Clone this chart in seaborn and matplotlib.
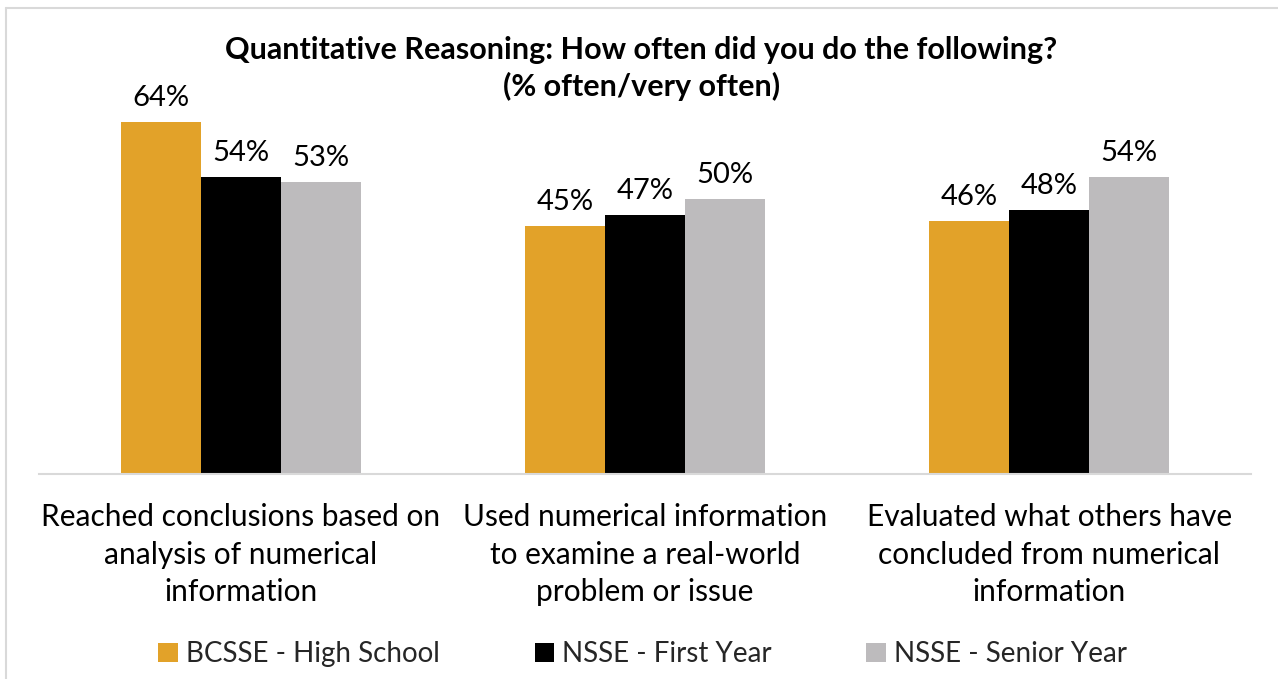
import matplotlib
matplotlib.use("Agg")
import matplotlib.pyplot as plt
from matplotlib.lines import Line2D
import seaborn as sns
import pandas as pd

# Survey items (x-axis categories) and the three respondent groups
categories = [
    "Reached conclusions based on\nanalysis of numerical\ninformation",
    "Used numerical information\nto examine a real-world\nproblem or issue",
    "Evaluated what others have\nconcluded from numerical\ninformation",
]
groups = ["BCSSE - High School", "NSSE - First Year", "NSSE - Senior Year"]
bcsse_high_school = [64, 45, 46]
nsse_first_year = [54, 47, 48]
nsse_senior_year = [53, 50, 54]

palette = ["#E2A229", "#000000", "#BDBBBD"]

rows = []
for grp, vals in zip(groups, [bcsse_high_school, nsse_first_year, nsse_senior_year]):
    for cat, v in zip(categories, vals):
        rows.append({"item": cat, "group": grp, "pct": v})
df = pd.DataFrame(rows)

sns.set_theme(style="white")
plt.rcParams["font.family"] = ["Lato", "DejaVu Sans"]

fig = plt.figure(figsize=(12.78, 6.79), dpi=100)
ax = fig.add_axes([0.0305, 0.302, 0.9485, 0.567])

sns.barplot(data=df, x="item", y="pct", hue="group", order=categories,
            hue_order=groups, palette=palette, width=0.594, gap=0,
            saturation=1, edgecolor="none", linewidth=0, ax=ax, legend=True)

for cont in ax.containers:
    ax.bar_label(cont, labels=[f"{v:.0f}%" for v in cont.datavalues],
                 padding=8, fontsize=21, color="#000000")

ax.set_ylim(0, 70)
ax.set_xlim(-0.5, 2.5)
ax.set_xlabel("")
ax.set_ylabel("")
ax.set_yticks([])
ax.set_xticks(range(len(categories)))
ax.set_xticklabels(categories, linespacing=1.42, fontsize=21.5, color="#000000")
ax.tick_params(axis="x", length=0, pad=21)
for side in ["top", "left", "right"]:
    ax.spines[side].set_visible(False)
ax.spines["bottom"].set_color("#D9D9D9")
ax.spines["bottom"].set_linewidth(1.5)

handles, labels = ax.get_legend_handles_labels()
ax.get_legend().remove()
fig.legend(handles, labels, loc="center", bbox_to_anchor=(0.503, 1 - 654 / 679),
           ncol=3, frameon=False, fontsize=20, handlelength=0.7,
           handleheight=0.7, handletextpad=0.3, columnspacing=3.4,
           borderaxespad=0)

fig.text(0.502, 1 - 50 / 679, "Quantitative Reasoning: How often did you do the following?",
         ha="center", va="center", fontsize=22, fontweight="bold", color="#000000")
fig.text(0.502, 1 - 86 / 679, "(% often/very often)",
         ha="center", va="center", fontsize=22, fontweight="bold", color="#000000")

# Chart-area border along the top and left edges
fig.add_artist(Line2D([6 / 1278, 1], [1 - 8 / 679, 1 - 8 / 679],
                      transform=fig.transFigure, color="#D9D9D9", linewidth=1.5))
fig.add_artist(Line2D([6 / 1278, 6 / 1278], [0, 1 - 8 / 679],
                      transform=fig.transFigure, color="#D9D9D9", linewidth=1.5))

fig.savefig("out.png", dpi=100, facecolor="white")
